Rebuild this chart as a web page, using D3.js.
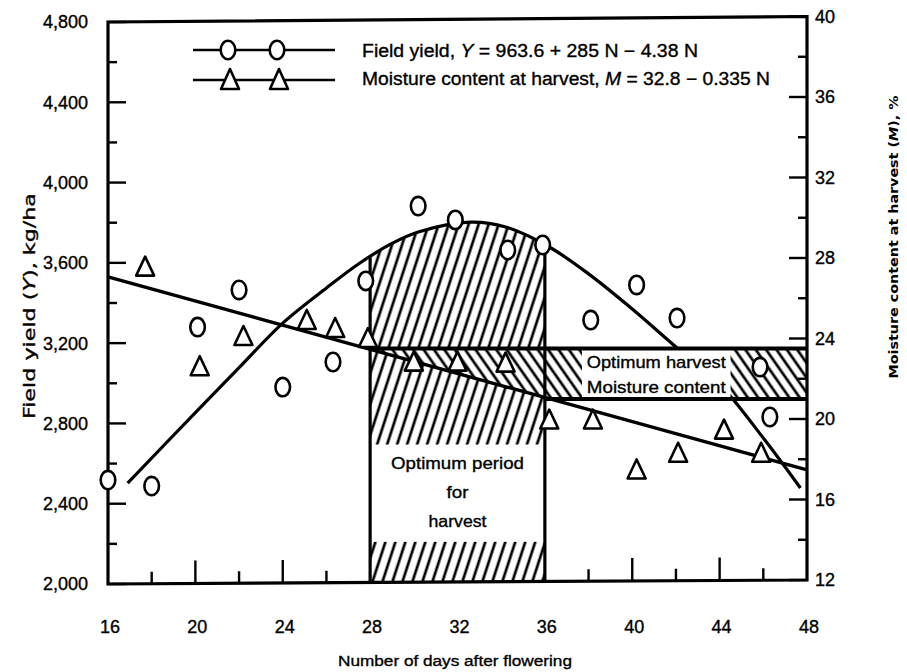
<!DOCTYPE html>
<html><head><meta charset="utf-8">
<script src="https://cdn.jsdelivr.net/npm/d3@7"></script>
<style>body{margin:0;background:#fff}svg{display:block}</style>
</head><body>
<svg id="chart" width="907" height="672"></svg>
<script>
// ---------------- data ----------------
const yieldDays   = [16, 18, 20.1, 22, 24, 26.3, 27.8, 30.2, 31.9, 34.3, 35.9, 38.1, 40.2, 42.05, 45.85, 46.3];
const yieldValues = [2518, 2488, 3280, 3465, 2981, 3106, 3510, 3883, 3814, 3664, 3689, 3315, 3490, 3325, 3081, 2832];

const moistureDays   = [17.7, 20.2, 22.2, 25.1, 26.4, 27.9, 30.0, 32.0, 34.2, 36.2, 38.2, 40.2, 42.1, 44.2, 45.9];
const moistureValues = [27.55, 22.6, 24.1, 24.9, 24.5, 24.0, 22.83, 22.83, 22.78, 19.95, 19.95, 17.47, 18.3, 19.45, 18.3];

// fitted curves as drawn in the figure
const yieldCurveDays   = [16.9, 20, 22, 24, 26, 27.5, 29, 30.2, 32.6, 34.2, 36.2, 38, 40, 42, 44, 46, 47.7];
const yieldCurveValues = [2503, 2854, 3078, 3300, 3475, 3597, 3697, 3754, 3803, 3779, 3679, 3545, 3370, 3181, 2996, 2727, 2478];
const moistureLineDays   = [16, 48];
const moistureLineValues = [27.06, 17.47];

// optimum zones
const optimumPeriod   = [28, 36];     // days
const optimumMoisture = [21, 23.5];   // %
const periodBoxYield  = [2210, 2695]; // white label box inside the period band (kg/ha)
const moistureBoxDays = [37.7, 44.5]; // white label box inside the moisture band (days)

// ticks
const xTickLabels        = [16, 20, 24, 28, 32, 36, 40, 44, 48];
const xMinorTicks        = [18, 22, 26, 38, 42, 46];
const xMajorTicks        = [20, 24, 40, 44];
const yieldTickLabels    = [2000, 2400, 2800, 3200, 3600, 4000, 4400, 4800];
const yieldMinorTicks    = [2200, 2600, 3000, 3400, 3800, 4200, 4600];
const moistureTickLabels = [12, 16, 20, 24, 28, 32, 36, 40];
const moistureMinorTicks = [14, 18, 22, 26, 30, 34, 38];

// ---------------- scales ----------------
const x  = d3.scaleLinear().domain([16, 48]).range([108, 807]);
const yL = d3.scaleLinear().domain([2000, 4800]).range([584, 22]);
const yR = d3.scaleLinear().domain([12, 40]).range([580, 16.5]);
const X0 = x(16), X1 = x(48);
const baseY = px => yL(2000) + (px - X0) / (X1 - X0) * (yR(12) - yL(2000));
const regM  = d3.scaleLinear().domain(moistureLineDays).range(moistureLineValues);

const svg = d3.select('#chart');
const defs = svg.append('defs');

// hatch patterns
const pf = defs.append('pattern').attr('id', 'hatchF').attr('patternUnits', 'userSpaceOnUse')
  .attr('width', 9.5).attr('height', 30).attr('patternTransform', 'rotate(18)');
pf.append('rect').attr('width', 9.5).attr('height', 30).attr('fill', '#fff');
pf.append('line').attr('x1', 2).attr('x2', 2).attr('y1', -1).attr('y2', 31).attr('stroke', '#000').attr('stroke-width', 2.7);

const pb = defs.append('pattern').attr('id', 'hatchB').attr('patternUnits', 'userSpaceOnUse')
  .attr('width', 8.5).attr('height', 30).attr('patternTransform', 'rotate(-35)');
pb.append('rect').attr('width', 8.5).attr('height', 30).attr('fill', '#fff');
pb.append('line').attr('x1', 2).attr('x2', 2).attr('y1', -1).attr('y2', 31).attr('stroke', '#000').attr('stroke-width', 2.7);

const curvePts = yieldCurveDays.map((d, i) => [d, yieldCurveValues[i]]);
const line = d3.line().x(d => x(d[0])).y(d => yL(d[1])).curve(d3.curveCatmullRom.alpha(0.5));
const area = d3.area().x(d => x(d[0])).y1(d => yL(d[1])).y0(d => baseY(x(d[0]))).curve(d3.curveCatmullRom.alpha(0.5));

defs.append('clipPath').attr('id', 'periodClip').append('rect')
  .attr('x', x(optimumPeriod[0])).attr('width', x(optimumPeriod[1]) - x(optimumPeriod[0]))
  .attr('y', 0).attr('height', 672);
defs.append('clipPath').attr('id', 'underCurve').append('path').attr('d', area(curvePts));

// 1. period band hatch (////)
svg.append('path').attr('d', area(curvePts)).attr('fill', 'url(#hatchF)').attr('clip-path', 'url(#periodClip)');

// 2. moisture zone within the period (\\\\)
const [p0, p1] = optimumPeriod;
const wedge = [[p0, optimumMoisture[1]], [p1, optimumMoisture[1]], [p1, regM(p1)], [p0, regM(p0)]];
svg.append('path').attr('d', 'M' + wedge.map(d => [x(d[0]), yR(d[1])].join(',')).join('L') + 'Z')
  .attr('fill', 'url(#hatchB)');

// 3. moisture band right of the period
svg.append('rect').attr('x', x(p1)).attr('width', x(48) - x(p1))
  .attr('y', yR(optimumMoisture[1])).attr('height', yR(optimumMoisture[0]) - yR(optimumMoisture[1]))
  .attr('fill', 'url(#hatchB)');

// 4. yield curve
svg.append('path').attr('d', line(curvePts)).attr('fill', 'none').attr('stroke', '#000').attr('stroke-width', 3.2);

// 5. white label boxes
svg.append('rect').attr('x', x(p0)).attr('width', x(p1) - x(p0))
  .attr('y', yL(periodBoxYield[1])).attr('height', yL(periodBoxYield[0]) - yL(periodBoxYield[1]))
  .attr('fill', '#fff');
svg.append('rect').attr('x', x(moistureBoxDays[0])).attr('width', x(moistureBoxDays[1]) - x(moistureBoxDays[0]))
  .attr('y', yR(optimumMoisture[1])).attr('height', yR(optimumMoisture[0]) - yR(optimumMoisture[1]))
  .attr('fill', '#fff');

// 6. band lines
svg.append('line').attr('x1', x(p0)).attr('x2', x(48)).attr('y1', yR(optimumMoisture[1])).attr('y2', yR(optimumMoisture[1]))
  .attr('stroke', '#000').attr('stroke-width', 4);
svg.append('line').attr('x1', x(p1)).attr('x2', x(48)).attr('y1', yR(optimumMoisture[0])).attr('y2', yR(optimumMoisture[0]))
  .attr('stroke', '#000').attr('stroke-width', 4);

// 7. vertical lines of the optimum period (clipped under the curve)
svg.append('g').attr('clip-path', 'url(#underCurve)').selectAll('line').data(optimumPeriod).join('line')
  .attr('x1', d => x(d)).attr('x2', d => x(d)).attr('y1', 0).attr('y2', 600)
  .attr('stroke', '#000').attr('stroke-width', 3.2);

// 8. moisture regression line
svg.append('line').attr('x1', x(moistureLineDays[0])).attr('x2', x(moistureLineDays[1]))
  .attr('y1', yR(moistureLineValues[0])).attr('y2', yR(moistureLineValues[1]))
  .attr('stroke', '#000').attr('stroke-width', 3.4);

// 9. frame
svg.append('path').attr('d', `M${X0},${yL(4800)}L${X1},${yR(40)}L${X1},${yR(12)}L${X0},${yL(2000)}Z`)
  .attr('fill', 'none').attr('stroke', '#000').attr('stroke-width', 3.2);

// 10. ticks
const tk = svg.append('g').attr('stroke', '#000').attr('stroke-width', 2.4);
yieldTickLabels.forEach(v => tk.append('line').attr('x1', X0).attr('x2', X0 + 18).attr('y1', yL(v)).attr('y2', yL(v)));
yieldMinorTicks.forEach(v => tk.append('line').attr('x1', X0).attr('x2', X0 + 9).attr('y1', yL(v)).attr('y2', yL(v)));
moistureTickLabels.forEach(v => tk.append('line').attr('x1', X1 - 18).attr('x2', X1).attr('y1', yR(v)).attr('y2', yR(v)));
moistureMinorTicks.forEach(v => tk.append('line').attr('x1', X1 - 9).attr('x2', X1).attr('y1', yR(v)).attr('y2', yR(v)));
xMinorTicks.concat(xMajorTicks).forEach(d => {
  const len = xMajorTicks.includes(d) ? 23 : 12;
  const b = baseY(x(d));
  tk.append('line').attr('x1', x(d)).attr('x2', x(d)).attr('y1', b).attr('y2', b - len);
});

// 11. points
const triPath = (cx, cy, w, h) => `M${cx},${cy - h * 0.55}L${cx + w / 2},${cy + h * 0.45}L${cx - w / 2},${cy + h * 0.45}Z`;
svg.append('g').selectAll('ellipse').data(yieldDays.map((d, i) => [d, yieldValues[i]])).join('ellipse')
  .attr('cx', d => x(d[0])).attr('cy', d => yL(d[1])).attr('rx', 7.3).attr('ry', 9.2)
  .attr('fill', '#fff').attr('stroke', '#000').attr('stroke-width', 2.6);
svg.append('g').selectAll('path').data(moistureDays.map((d, i) => [d, moistureValues[i]])).join('path')
  .attr('d', d => triPath(x(d[0]), yR(d[1]), 18, 19))
  .attr('fill', '#fff').attr('stroke', '#000').attr('stroke-width', 2.6).attr('stroke-linejoin', 'round');

// 12. texts
const FONT = '"Liberation Sans", Arial, sans-serif';
const txt = svg.append('g').attr('font-family', FONT).attr('fill', '#000')
  .attr('stroke', '#000').attr('stroke-width', 0.35);
txt.selectAll('.yl').data(yieldTickLabels).join('text')
  .attr('x', 88).attr('y', d => yL(d)).attr('dy', '0.36em').attr('text-anchor', 'end')
  .attr('font-size', 18).text(d => d3.format(',')(d));
txt.selectAll('.yr').data(moistureTickLabels).join('text')
  .attr('x', 815).attr('y', d => yR(d)).attr('dy', '0.36em').attr('text-anchor', 'start')
  .attr('font-size', 18).text(d => d);
txt.selectAll('.xl').data(xTickLabels).join('text')
  .attr('x', d => x(d) + 2).attr('y', 633).attr('text-anchor', 'middle')
  .attr('font-size', 18).text(d => d);

txt.append('text').attr('x', 455).attr('y', 666).attr('text-anchor', 'middle').attr('font-size', 15.5)
  .attr('textLength', 234).attr('lengthAdjust', 'spacingAndGlyphs').text('Number of days after flowering');

const lt = txt.append('text').attr('transform', 'translate(35,306) rotate(-90)').attr('text-anchor', 'middle')
  .attr('font-family', '"DejaVu Sans", Verdana, sans-serif').attr('font-size', 15.5)
  .attr('textLength', 226).attr('lengthAdjust', 'spacingAndGlyphs');
lt.append('tspan').text('Field yield (');
lt.append('tspan').attr('font-style', 'italic').text('Y');
lt.append('tspan').text('), kg/ha');

const rt = txt.append('text').attr('transform', 'translate(898,237) rotate(-90)').attr('text-anchor', 'middle')
  .attr('font-family', '"DejaVu Sans", Verdana, sans-serif').attr('font-size', 13).attr('font-weight', 'bold')
  .attr('stroke-width', 0).attr('textLength', 283).attr('lengthAdjust', 'spacingAndGlyphs');
rt.append('tspan').text('Moisture content at harvest (');
rt.append('tspan').attr('font-style', 'italic').text('M');
rt.append('tspan').text('), %');

// band texts
const cxP = (x(p0) + x(p1)) / 2;
[['Optimum period', 469, 133], ['for', 498, 22], ['harvest', 527, 58]].forEach(([t, yy, w]) => {
  txt.append('text').attr('x', cxP).attr('y', yy).attr('text-anchor', 'middle').attr('font-size', 16.5)
    .attr('textLength', w).attr('lengthAdjust', 'spacingAndGlyphs').text(t);
});
const cxM = (x(moistureBoxDays[0]) + x(moistureBoxDays[1])) / 2;
[['Optimum harvest', 368, 139], ['Moisture content', 393, 139]].forEach(([t, yy, w]) => {
  txt.append('text').attr('x', cxM).attr('y', yy).attr('text-anchor', 'middle').attr('font-size', 17)
    .attr('textLength', w).attr('lengthAdjust', 'spacingAndGlyphs').text(t);
});

// legend
const lg = svg.append('g');
lg.append('line').attr('x1', 193).attr('x2', 335).attr('y1', 50).attr('y2', 50).attr('stroke', '#000').attr('stroke-width', 2.6);
lg.append('line').attr('x1', 193).attr('x2', 335).attr('y1', 80).attr('y2', 80).attr('stroke', '#000').attr('stroke-width', 2.6);
[228, 277].forEach(cx => {
  lg.append('ellipse').attr('cx', cx).attr('cy', 50).attr('rx', 7.3).attr('ry', 9.2)
    .attr('fill', '#fff').attr('stroke', '#000').attr('stroke-width', 2.6);
  lg.append('path').attr('d', triPath(cx + 2, 80, 18, 20))
    .attr('fill', '#fff').attr('stroke', '#000').attr('stroke-width', 2.6).attr('stroke-linejoin', 'round');
});
const l1 = txt.append('text').attr('x', 362).attr('y', 57).attr('font-size', 18)
  .attr('textLength', 336).attr('lengthAdjust', 'spacingAndGlyphs');
l1.append('tspan').text('Field yield, ');
l1.append('tspan').attr('font-style', 'italic').text('Y');
l1.append('tspan').text(' = 963.6 + 285 N \u2212 4.38 N');
const l2 = txt.append('text').attr('x', 362).attr('y', 85).attr('font-size', 18)
  .attr('textLength', 408).attr('lengthAdjust', 'spacingAndGlyphs');
l2.append('tspan').text('Moisture content at harvest, ');
l2.append('tspan').attr('font-style', 'italic').text('M');
l2.append('tspan').text(' = 32.8 \u2212 0.335 N');
</script>
</body></html>
